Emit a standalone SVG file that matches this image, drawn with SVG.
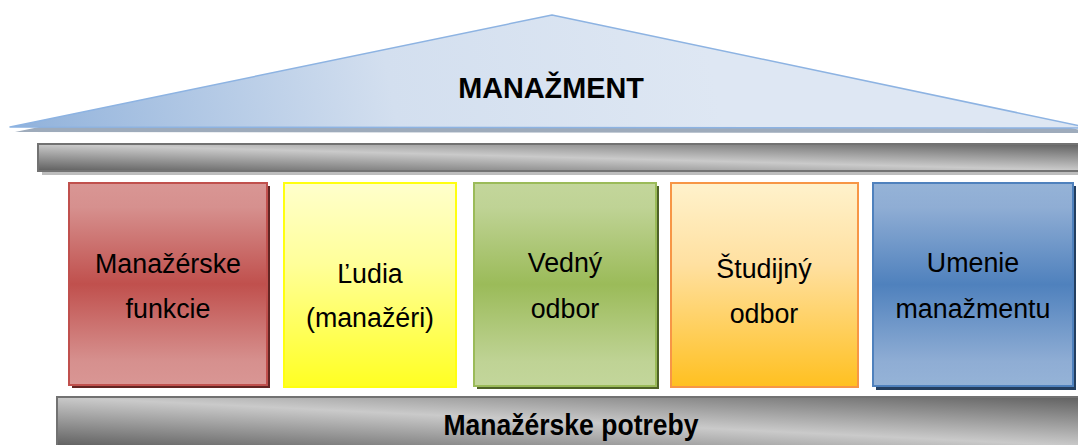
<svg xmlns="http://www.w3.org/2000/svg" width="1078" height="445" viewBox="0 0 1078 445">
  <defs>
    <linearGradient id="roofFill" gradientUnits="userSpaceOnUse" x1="0" y1="130" x2="700" y2="0">
      <stop offset="0" stop-color="#8eb0da"/>
      <stop offset="0.55" stop-color="#d3dfef"/>
      <stop offset="1" stop-color="#dee7f3"/>
    </linearGradient>
    <!-- steel beams: light band running diagonally across a long bar -->
    <linearGradient id="beamFill" x1="1" y1="0" x2="0" y2="1">
      <stop offset="0" stop-color="#5f5f5f"/>
      <stop offset="0.5" stop-color="#cacaca"/>
      <stop offset="1" stop-color="#5f5f5f"/>
    </linearGradient>
    <linearGradient id="redFill" x1="0" y1="0" x2="0" y2="1">
      <stop offset="0" stop-color="#d99694"/>
      <stop offset="0.12" stop-color="#d6908e"/>
      <stop offset="0.5" stop-color="#c0504d"/>
      <stop offset="0.88" stop-color="#d6908e"/>
      <stop offset="1" stop-color="#d99694"/>
    </linearGradient>
    <linearGradient id="yellowFill" x1="0" y1="0" x2="0" y2="1">
      <stop offset="0" stop-color="#ffffcc"/>
      <stop offset="0.4" stop-color="#ffff99"/>
      <stop offset="1" stop-color="#ffff22"/>
    </linearGradient>
    <linearGradient id="greenFill" x1="0" y1="0" x2="0" y2="1">
      <stop offset="0" stop-color="#c3d69b"/>
      <stop offset="0.12" stop-color="#bfd395"/>
      <stop offset="0.5" stop-color="#9bbb59"/>
      <stop offset="0.88" stop-color="#bfd395"/>
      <stop offset="1" stop-color="#c3d69b"/>
    </linearGradient>
    <linearGradient id="orangeFill" x1="0" y1="0" x2="0" y2="1">
      <stop offset="0" stop-color="#fff2cc"/>
      <stop offset="0.4" stop-color="#ffe0a0"/>
      <stop offset="1" stop-color="#ffc020"/>
    </linearGradient>
    <linearGradient id="blueFill" x1="0" y1="0" x2="0" y2="1">
      <stop offset="0" stop-color="#95b3d7"/>
      <stop offset="0.12" stop-color="#8fadd4"/>
      <stop offset="0.5" stop-color="#4f81bd"/>
      <stop offset="0.88" stop-color="#8fadd4"/>
      <stop offset="1" stop-color="#95b3d7"/>
    </linearGradient>
  </defs>
  <style>
    text { font-family: "Liberation Sans", Arial, sans-serif; fill: #000; text-anchor: middle; }
    .label { font-size: 26.8px; }
    .title { font-size: 28.8px; font-weight: bold; }
    .base { font-size: 30px; font-weight: bold; }
    .beam { fill: url(#beamFill); stroke: #727272; stroke-width: 2; }
    .box { stroke-width: 2; }
  </style>

  <!-- roof -->
  <g id="roof">
    <polygon points="15,132 556,20 1095,133" fill="#9eabbb"/>
    <polygon points="10,127 552,15 1090,128" fill="url(#roofFill)" stroke="#8db3e2" stroke-width="1.5" stroke-linejoin="round"/>
    <text class="title" x="551" y="98">MANAŽMENT</text>
  </g>

  <!-- upper beam -->
  <g id="beam">
    <rect x="42" y="148" width="1060" height="27" fill="#bdbdbd"/>
    <rect class="beam" x="38" y="144" width="1060" height="27"/>
  </g>

  <!-- pillars -->
  <g id="pillar-funkcie">
    <rect x="72" y="186" width="198" height="202" fill="#632523"/>
    <rect class="box" x="69" y="183" width="198" height="202" fill="url(#redFill)" stroke="#c0504d"/>
    <text class="label" x="168" y="273">Manažérske</text>
    <text class="label" x="168" y="318">funkcie</text>
  </g>

  <g id="pillar-ludia">
    <rect class="box" x="284" y="183" width="172" height="204" fill="url(#yellowFill)" stroke="#ffff10"/>
    <text class="label" x="370" y="283">Ľudia</text>
    <text class="label" x="370" y="327">(manažéri)</text>
  </g>

  <g id="pillar-vedny">
    <rect x="477" y="186" width="182" height="203" fill="#4f6228"/>
    <rect class="box" x="474" y="183" width="182" height="203" fill="url(#greenFill)" stroke="#9bbb59"/>
    <text class="label" x="565" y="272">Vedný</text>
    <text class="label" x="565" y="318">odbor</text>
  </g>

  <g id="pillar-studijny">
    <rect class="box" x="671" y="183" width="187" height="204" fill="url(#orangeFill)" stroke="#f79646"/>
    <text class="label" x="764" y="278">Študijný</text>
    <text class="label" x="764" y="323">odbor</text>
  </g>

  <g id="pillar-umenie">
    <rect x="876" y="186" width="200" height="204" fill="#243f60"/>
    <rect class="box" x="873" y="183" width="200" height="203" fill="url(#blueFill)" stroke="#4f81bd"/>
    <text class="label" x="973" y="272">Umenie</text>
    <text class="label" x="973" y="318">manažmentu</text>
  </g>

  <!-- foundation -->
  <g id="foundation">
    <rect class="beam" x="57" y="397" width="1040" height="50"/>
    <text class="base" x="571" y="435" textLength="255" lengthAdjust="spacingAndGlyphs">Manažérske potreby</text>
  </g>
</svg>
